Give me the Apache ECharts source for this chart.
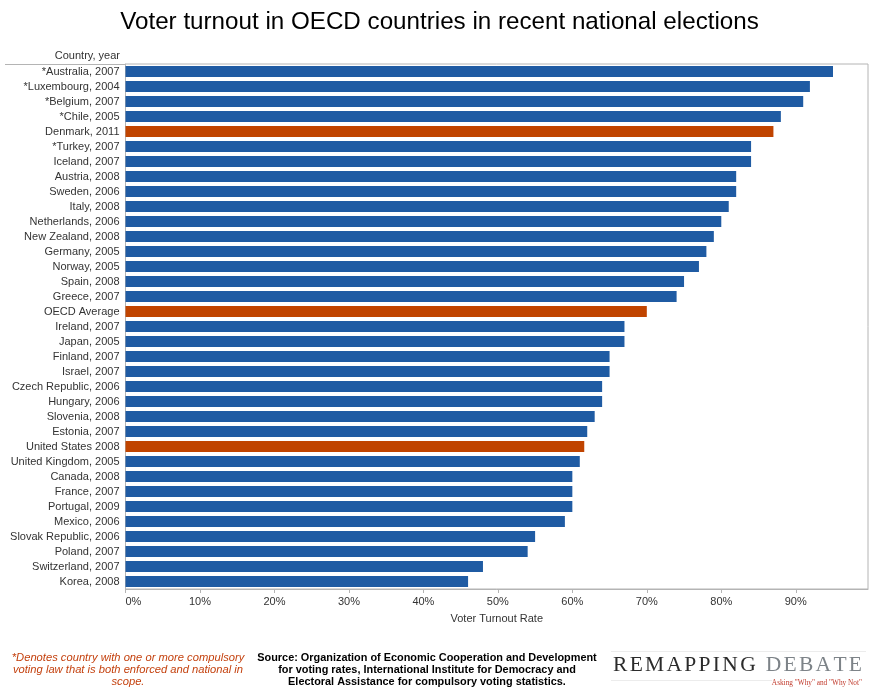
<!DOCTYPE html>
<html>
<head>
<meta charset="utf-8">
<script src="https://cdn.jsdelivr.net/npm/echarts@6/dist/echarts.min.js"></script>
<style>
html,body{margin:0;padding:0;background:#fff;}
#chart{width:879px;height:695px;}
</style>
</head>
<body>
<div id="chart"></div>
<script>
var categories = [
  "*Australia, 2007","*Luxembourg, 2004","*Belgium, 2007","*Chile, 2005","Denmark, 2011",
  "*Turkey, 2007","Iceland, 2007","Austria, 2008","Sweden, 2006","Italy, 2008",
  "Netherlands, 2006","New Zealand, 2008","Germany, 2005","Norway, 2005","Spain, 2008",
  "Greece, 2007","OECD Average","Ireland, 2007","Japan, 2005","Finland, 2007",
  "Israel, 2007","Czech Republic, 2006","Hungary, 2006","Slovenia, 2008","Estonia, 2007",
  "United States 2008","United Kingdom, 2005","Canada, 2008","France, 2007","Portugal, 2009",
  "Mexico, 2006","Slovak Republic, 2006","Poland, 2007","Switzerland, 2007","Korea, 2008"
];
var turnout = [
  95, 91.9, 91, 88, 87,
  84, 84, 82, 82, 81,
  80, 79, 78, 77, 75,
  74, 70, 67, 67, 65,
  65, 64, 64, 63, 62,
  61.6, 61, 60, 60, 60,
  59, 55, 54, 48, 46
];
var highlighted = ["Denmark, 2011", "OECD Average", "United States 2008"];
var xTicks = [0, 10, 20, 30, 40, 50, 60, 70, 80, 90];

var BLUE = '#1f5ba3';
var ORANGE = '#c04400';
var FONT = '"Liberation Sans", Arial, Helvetica, sans-serif';
var SERIF = '"Liberation Serif", "DejaVu Serif", serif';

var seriesData = categories.map(function (c, i) {
  return {
    value: turnout[i],
    itemStyle: { color: highlighted.indexOf(c) >= 0 ? ORANGE : BLUE }
  };
});

// Letter-spaced logo text built from measured glyph widths
function spacedText(str, x0, totalWidth, y, fontSize, colorFn) {
  var cv = document.createElement('canvas').getContext('2d');
  cv.font = fontSize + 'px ' + SERIF;
  var widths = str.split('').map(function (ch) { return cv.measureText(ch).width; });
  var sum = widths.reduce(function (a, b) { return a + b; }, 0);
  var gap = (totalWidth - sum) / (str.length - 1);
  var els = [];
  var x = x0;
  str.split('').forEach(function (ch, i) {
    if (ch !== ' ') {
      els.push({ type: 'text', x: x, y: y, style: {
        text: ch, fontFamily: SERIF, fontSize: fontSize, fill: colorFn(i),
        textAlign: 'left', textVerticalAlign: 'middle' } });
    }
    x += widths[i] + gap;
  });
  return els;
}

var logo = spacedText('REMAPPING DEBATE', 613, 249, 665, 21.5, function (i) { return i < 9 ? '#2b2b2b' : '#7d8388'; });

var chart = echarts.init(document.getElementById('chart'), null, { renderer: 'canvas' });
chart.setOption({
  animation: false,
  backgroundColor: '#ffffff',
  title: {
    text: 'Voter turnout in OECD countries in recent national elections',
    left: 'center',
    top: 5,
    textStyle: { fontFamily: FONT, fontSize: 24.2, fontWeight: 'normal', color: '#000' }
  },
  grid: {
    left: 125.5, right: 11, top: 64, bottom: 106,
    show: true, borderColor: '#b4b4b4', borderWidth: 1, backgroundColor: 'transparent'
  },
  xAxis: {
    type: 'value',
    min: 0,
    max: 99.7,
    interval: 10,
    name: 'Voter Turnout Rate',
    nameLocation: 'middle',
    nameGap: 24,
    nameTextStyle: { fontFamily: FONT, fontSize: 11, color: '#333' },
    axisLine: { show: true, lineStyle: { color: '#b4b4b4' } },
    axisTick: { show: true, length: 4, lineStyle: { color: '#b4b4b4' } },
    splitLine: { show: false },
    axisLabel: {
      fontFamily: FONT, fontSize: 11, color: '#333', margin: 7,
      showMaxLabel: false,
      alignMinLabel: 'left',
      formatter: function (v) { return xTicks.indexOf(v) >= 0 ? v + '%' : ''; }
    }
  },
  yAxis: {
    type: 'category',
    data: categories,
    inverse: true,
    axisLine: { show: true, lineStyle: { color: '#b4b4b4' } },
    axisTick: { show: false },
    axisLabel: { fontFamily: FONT, fontSize: 11, color: '#333', margin: 6, interval: 0 }
  },
  series: [{
    type: 'bar',
    data: seriesData,
    barWidth: 11,
    silent: true
  }],
  graphic: [
    { type: 'line', shape: { x1: 5, y1: 64.5, x2: 126, y2: 64.5 }, style: { stroke: '#b4b4b4', lineWidth: 1 } },
    { type: 'text', x: 120, y: 56, style: { text: 'Country, year', fontFamily: FONT, fontSize: 11, fill: '#333', textAlign: 'right', textVerticalAlign: 'middle' } },
    { type: 'text', x: 128, y: 670, style: {
        text: '*Denotes country with one or more compulsory\nvoting law that is both enforced and national in\nscope.',
        fontFamily: FONT, fontSize: 11.2, fontStyle: 'italic', fill: '#c4410e',
        textAlign: 'center', textVerticalAlign: 'middle', lineHeight: 12 } },
    { type: 'text', x: 427, y: 670, style: {
        text: 'Source: Organization of Economic Cooperation and Development\nfor voting rates, International Institute for Democracy and\nElectoral Assistance for compulsory voting statistics.',
        fontFamily: FONT, fontSize: 10.9, fontWeight: 'bold', fill: '#000',
        textAlign: 'center', textVerticalAlign: 'middle', lineHeight: 12 } },
    { type: 'line', shape: { x1: 611, y1: 651.5, x2: 866, y2: 651.5 }, style: { stroke: '#ececec', lineWidth: 1 } },
    { type: 'line', shape: { x1: 611, y1: 680.5, x2: 772, y2: 680.5 }, style: { stroke: '#ececec', lineWidth: 1 } },
    { type: 'text', x: 862, y: 683, style: {
        text: 'Asking "Why" and "Why Not"',
        fontFamily: SERIF, fontSize: 7.3, fill: '#c0392b',
        textAlign: 'right', textVerticalAlign: 'middle' } }
  ].concat(logo)
});
</script>
</body>
</html>
